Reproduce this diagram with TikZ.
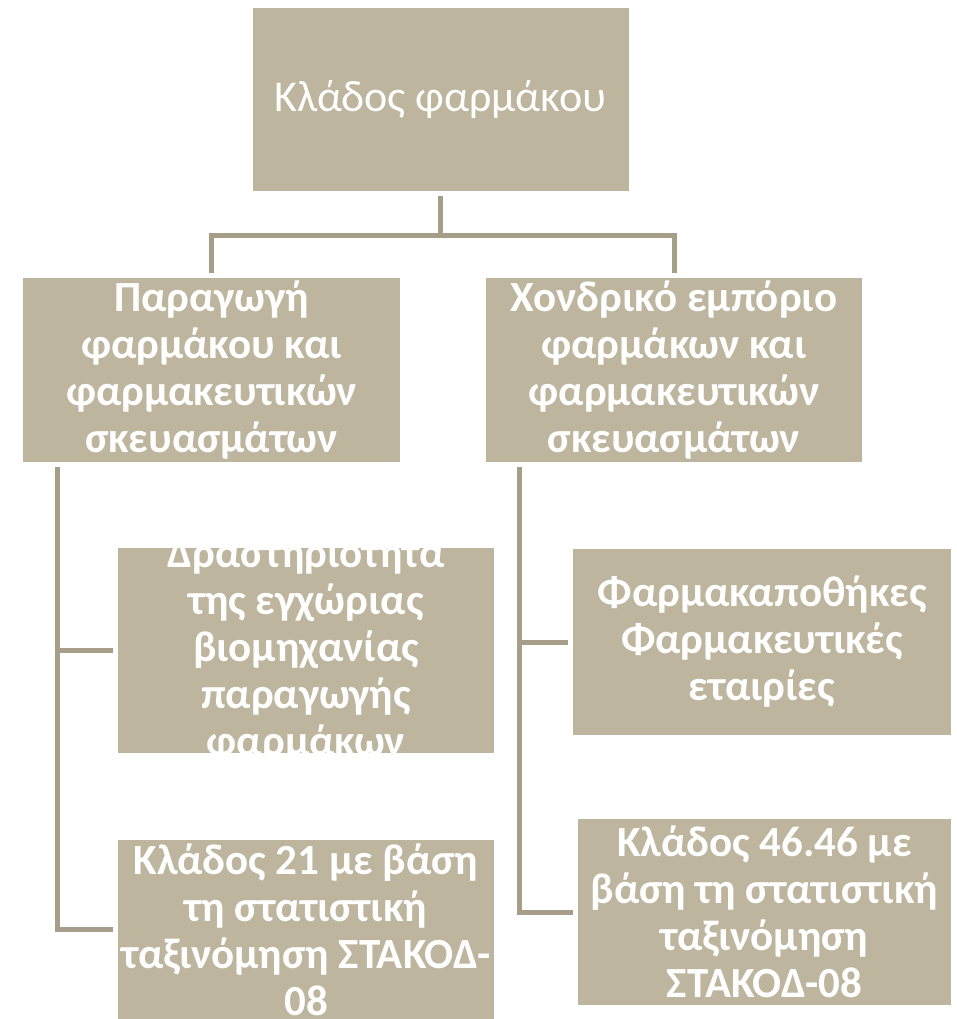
\documentclass[tikz,border=0pt]{standalone}
\usepackage{fontspec}
\setmainfont{Carlito}
\definecolor{boxfill}{HTML}{BDB59D}
\definecolor{linkcol}{HTML}{A69E88}
\tikzset{
  box/.style={fill=boxfill, inner sep=0pt, minimum width=376pt, minimum height=184pt},
  boxtext/.style={text=white, align=center, font=\bfseries\fontsize{43}{47}\selectfont},
  cliptext/.style={path picture={\node[boxtext] at (path picture bounding box.center) {#1};}},
  link/.style={draw=linkcol, line width=5pt},
}
\begin{document}
\begin{tikzpicture}[x=1pt, y=-1pt]
  \useasboundingbox (0,0) rectangle (957,1019);
  % top level
  \node[box, minimum height=183pt, text=white, font=\fontsize{44}{47}\selectfont] (top) at (440.5,99.5) {Κλάδος φαρμάκου};
  % second level
  \node[box, boxtext, minimum width=377pt] (prod) at (211.5,370) {Παραγωγή\\φαρμάκου και\\φαρμακευτικών\\σκευασμάτων};
  \node[box, boxtext] (trade) at (674,370) {Χονδρικό εμπόριο\\φαρμάκων και\\φαρμακευτικών\\σκευασμάτων};
  % third level, left
  \node[box, minimum height=205pt, cliptext={Δραστηριοτητα\\της εγχώριας\\βιομηχανίας\\παραγωγής\\φαρμάκων}] (local) at (306,650.5) {};
  \node[box, minimum height=179pt, cliptext={Κλάδος 21 με βάση\\τη στατιστική\\ταξινόμηση ΣΤΑΚΟΔ-\\08}] (stakod21) at (306,929.5) {};
  % third level, right
  \node[box, boxtext, minimum width=378pt, minimum height=186pt] (pharm) at (762,642) {Φαρμακαποθήκες\\Φαρμακευτικές\\εταιρίες};
  \node[box, boxtext, minimum width=373pt, minimum height=186pt] (stakod46) at (764.5,912) {Κλάδος 46.46 με\\βάση τη στατιστική\\ταξινόμηση\\ΣΤΑΚΟΔ-08};
  % connectors
  \coordinate (fork) at (440.5,235);
  \draw[link] ([yshift=-5pt]top.south) -- (fork);
  \draw[link] ([yshift=5pt]prod.north) |- (fork) -| ([yshift=5pt]trade.north);
  \coordinate (lspine) at ([xshift=35pt,yshift=-5pt]prod.south west);
  \coordinate (rspine) at ([xshift=34pt,yshift=-5pt]trade.south west);
  \draw[link] (lspine) |- ([xshift=-5pt]local.west);
  \draw[link] (lspine) |- ([xshift=-5pt]stakod21.west);
  \draw[link] (rspine) |- ([xshift=-5pt]pharm.west);
  \draw[link] (rspine) |- ([xshift=-5pt]stakod46.west);
\end{tikzpicture}
\end{document}
